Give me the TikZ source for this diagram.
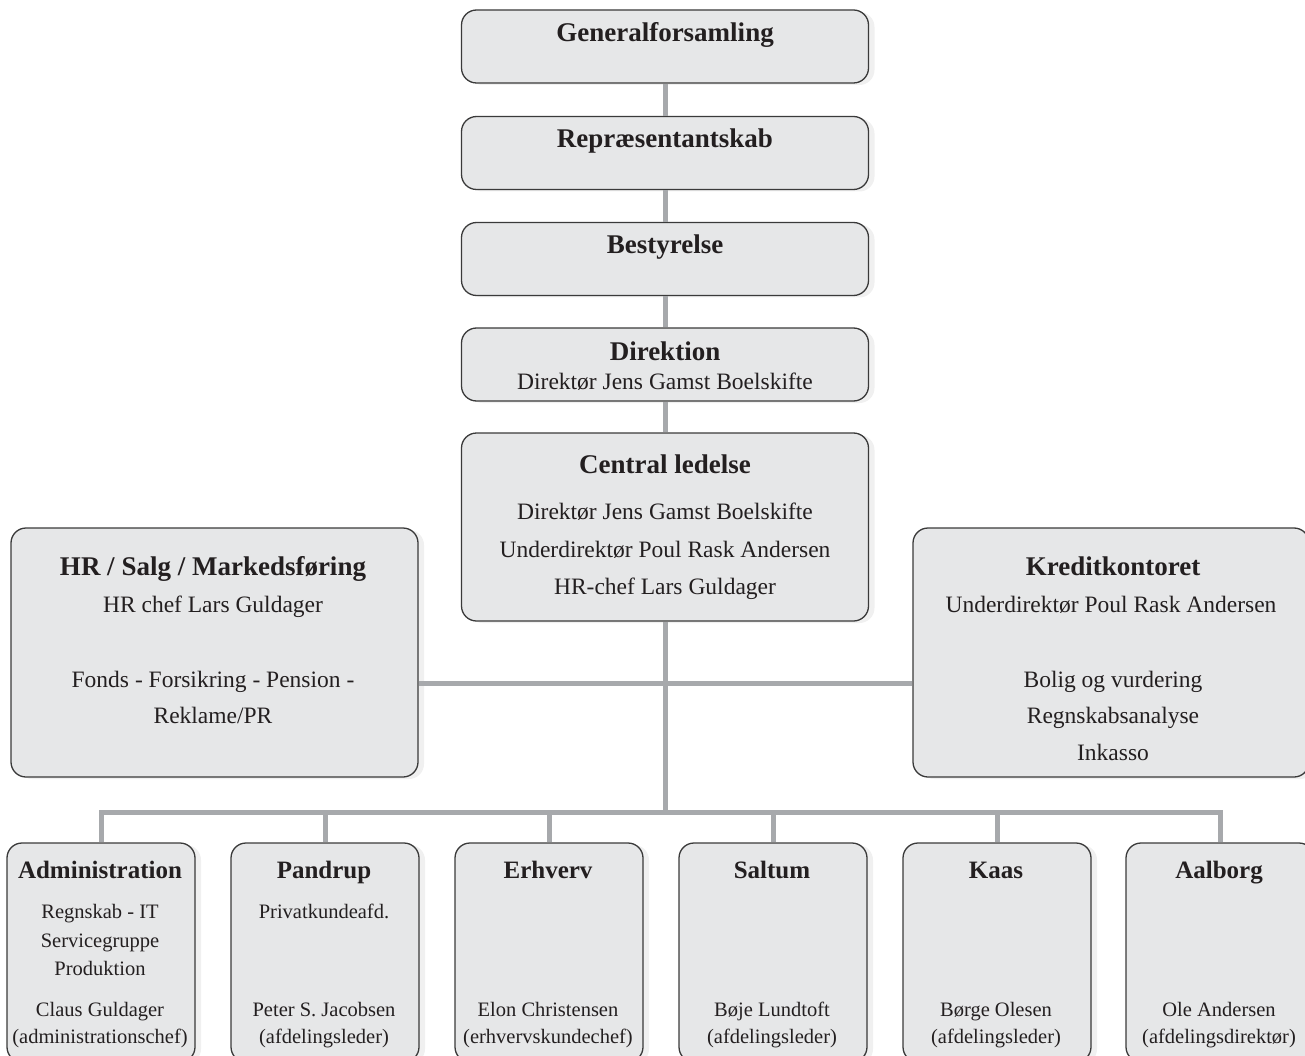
\documentclass[tikz,border=0pt]{standalone}
\usepackage{fontspec}
\setmainfont{Liberation Serif}
\usetikzlibrary{shadows}
\definecolor{boxfill}{HTML}{E6E7E8}
\definecolor{boxline}{HTML}{3A3A3A}
\definecolor{conn}{HTML}{A7A9AC}
\definecolor{txt}{HTML}{231F20}
\begin{document}
\begin{tikzpicture}[x=1pt,y=-1pt,
  box/.style={draw=boxline, line width=1.3pt, fill=boxfill, rounded corners=15pt,
    drop shadow={shadow xshift=6pt, shadow yshift=-2pt, fill=black!6, opacity=1}},
  topbox/.style={box, minimum width=407pt, minimum height=73pt},
  sidebox/.style={box, minimum width=407pt, minimum height=249pt},
  botbox/.style={box, minimum width=188pt, minimum height=219pt},
  ttl/.style={anchor=base, inner sep=0pt, text=txt, font=\fontsize{27}{32}\selectfont\bfseries},
  reg/.style={anchor=base, inner sep=0pt, text=txt, font=\fontsize{23.5}{28}\selectfont},
  bttl/.style={anchor=base, inner sep=0pt, text=txt, font=\fontsize{25}{30}\selectfont\bfseries},
  breg/.style={anchor=base, inner sep=0pt, text=txt, font=\fontsize{20.5}{25}\selectfont},
  link/.style={draw=conn, line width=5pt, line join=miter}]
\useasboundingbox (0,0) rectangle (1305,1056);
\clip (0,0) rectangle (1305,1056);

% top chain
\node[topbox] (gf) at (665,46.5) {};
\node[topbox] (rep) at (665,153) {};
\node[topbox] (best) at (665,259) {};
\node[topbox] (dir) at (665,364.5) {};
\node[box, minimum width=407pt, minimum height=188pt] (cl) at (665,527) {};

% side boxes
\node[sidebox] (hr) at (214.5,652.5) {};
\node[box, minimum width=396pt, minimum height=249pt] (kr) at (1111,652.5) {};

% bottom boxes
\node[botbox] (adm) at (101,952.5) {};
\node[botbox] (pan) at (325,952.5) {};
\node[botbox] (erh) at (549,952.5) {};
\node[botbox] (sal) at (773,952.5) {};
\node[botbox] (kaa) at (997,952.5) {};
\node[botbox] (aal) at (1220,952.5) {};

\coordinate (mid) at (665,683);
\coordinate (bus) at (665,812);

% connectors
\draw[link] (gf.south) -- (rep.north);
\draw[link] (rep.south) -- (best.north);
\draw[link] (best.south) -- (dir.north);
\draw[link] (dir.south) -- (cl.north);
\draw[link] (cl.south) -- (bus);
\draw[link] (hr.east |- mid) -- (kr.west |- mid);
\draw[link] (adm.north) -- (adm.north |- bus) -- (aal.north |- bus) -- (aal.north);
\draw[link] (pan.north) -- (pan.north |- bus);
\draw[link] (erh.north) -- (erh.north |- bus);
\draw[link] (sal.north) -- (sal.north |- bus);
\draw[link] (kaa.north) -- (kaa.north |- bus);

% texts top
\node[ttl] (gf-t) at (665,42) {Generalforsamling};
\node[ttl] (rep-t) at (665,148) {Repræsentantskab};
\node[ttl] (best-t) at (665,254) {Bestyrelse};
\node[ttl] (dir-t) at (665,360) {Direktion};
\node[reg] (dir-1) at (665,389) {Direktør Jens Gamst Boelskifte};
\node[ttl] (cl-t) at (665,473) {Central ledelse};
\node[reg] (cl-1) at (665,519) {Direktør Jens Gamst Boelskifte};
\node[reg] (cl-2) at (665,557) {Underdirektør Poul Rask Andersen};
\node[reg] (cl-3) at (665,594) {HR-chef Lars Guldager};

% side texts
\node[ttl] (hr-t) at (213,575) {HR / Salg / Markedsføring};
\node[reg] (hr-1) at (213,612) {HR chef Lars Guldager};
\node[reg] (hr-2) at (213,687) {Fonds - Forsikring - Pension -};
\node[reg] (hr-3) at (213,723) {Reklame/PR};
\node[ttl] (kr-t) at (1113,575) {Kreditkontoret};
\node[reg] (kr-1) at (1111,612) {Underdirektør Poul Rask Andersen};
\node[reg] (kr-2) at (1113,687) {Bolig og vurdering};
\node[reg] (kr-3) at (1113,723) {Regnskabsanalyse};
\node[reg] (kr-4) at (1113,760) {Inkasso};

% bottom texts
\node[bttl] (adm-t) at (100,878) {Administration};
\node[breg] (adm-1) at (100,918) {Regnskab - IT};
\node[breg] (adm-2) at (100,947) {Servicegruppe};
\node[breg] (adm-3) at (100,975) {Produktion};
\node[breg] (adm-4) at (100,1016) {Claus Guldager};
\node[breg] (adm-5) at (100,1043) {(administrationschef)};

\node[bttl] (pan-t) at (324,878) {Pandrup};
\node[breg] (pan-1) at (324,918) {Privatkundeafd.};
\node[breg] (pan-2) at (324,1016) {Peter S. Jacobsen};
\node[breg] (pan-3) at (324,1043) {(afdelingsleder)};

\node[bttl] (erh-t) at (548,878) {Erhverv};
\node[breg] (erh-1) at (548,1016) {Elon Christensen};
\node[breg] (erh-2) at (548,1043) {(erhvervskundechef)};

\node[bttl] (sal-t) at (772,878) {Saltum};
\node[breg] (sal-1) at (772,1016) {Bøje Lundtoft};
\node[breg] (sal-2) at (772,1043) {(afdelingsleder)};

\node[bttl] (kaa-t) at (996,878) {Kaas};
\node[breg] (kaa-1) at (996,1016) {Børge Olesen};
\node[breg] (kaa-2) at (996,1043) {(afdelingsleder)};

\node[bttl] (aal-t) at (1219,878) {Aalborg};
\node[breg] (aal-1) at (1219,1016) {Ole Andersen};
\node[breg] (aal-2) at (1219,1043) {(afdelingsdirektør)};
\end{tikzpicture}
\end{document}
